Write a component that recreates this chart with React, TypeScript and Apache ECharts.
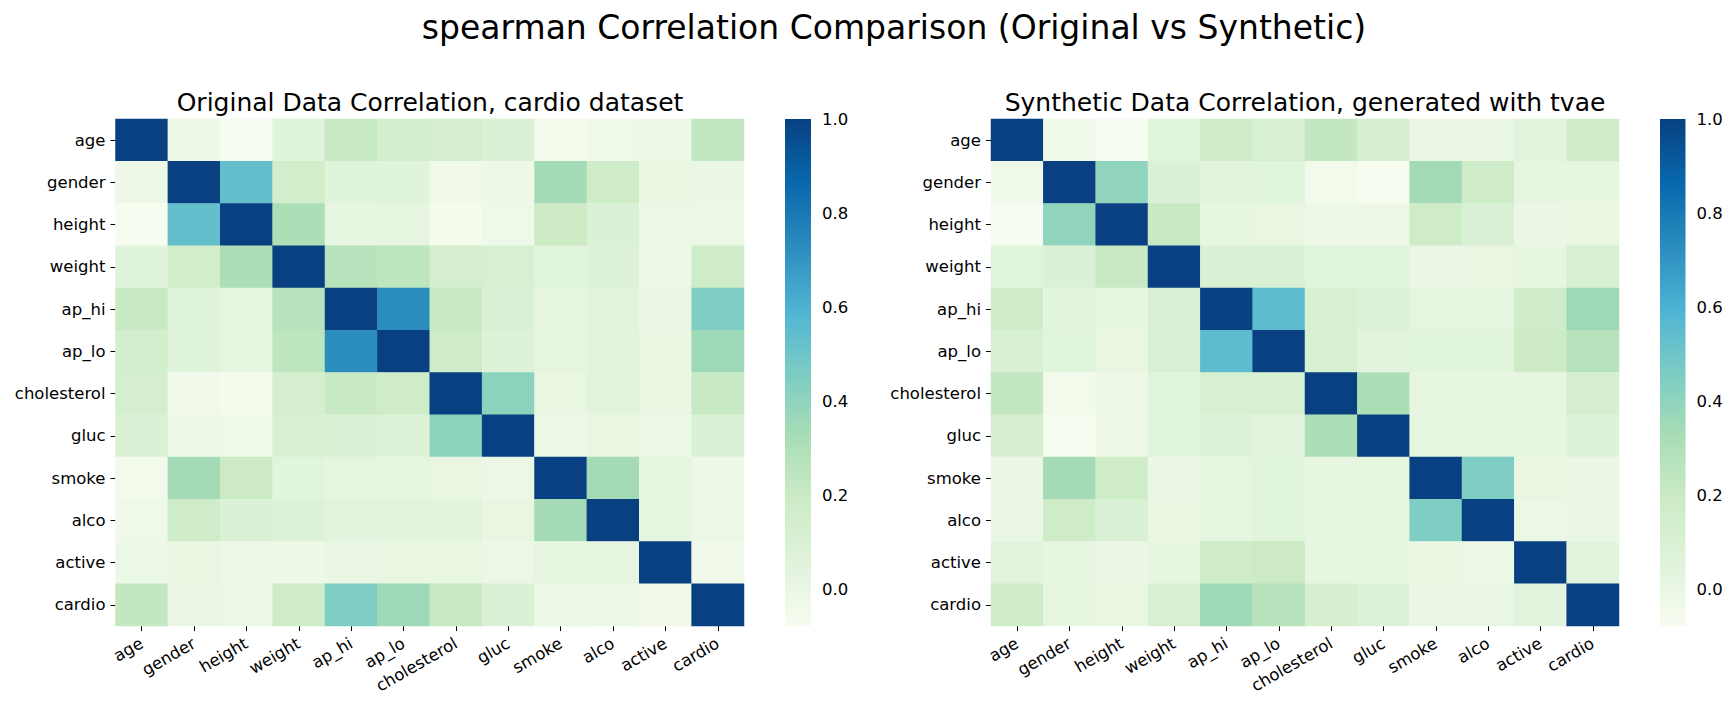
import React, { useEffect, useRef } from "react";
import * as echarts from "echarts";

const categories = ["age", "gender", "height", "weight", "ap_hi", "ap_lo", "cholesterol", "gluc", "smoke", "alco", "active", "cardio"];

const originalCorr = [
  [1, -0.02, -0.077, 0.06, 0.21, 0.15, 0.14, 0.09, -0.05, -0.03, -0.01, 0.23],
  [-0.02, 1, 0.53, 0.16, 0.06, 0.06, -0.04, -0.02, 0.34, 0.17, 0.01, 0.0],
  [-0.077, 0.53, 1, 0.31, 0.02, 0.03, -0.06, -0.03, 0.19, 0.09, -0.01, -0.01],
  [0.06, 0.16, 0.31, 1, 0.27, 0.25, 0.14, 0.11, 0.05, 0.07, -0.02, 0.18],
  [0.21, 0.06, 0.02, 0.27, 1, 0.73, 0.21, 0.1, 0.03, 0.04, 0.0, 0.45],
  [0.15, 0.06, 0.03, 0.25, 0.73, 1, 0.17, 0.08, 0.03, 0.04, 0.01, 0.36],
  [0.14, -0.04, -0.06, 0.14, 0.21, 0.17, 1, 0.41, 0.01, 0.04, 0.01, 0.21],
  [0.09, -0.02, -0.03, 0.11, 0.1, 0.08, 0.41, 1, -0.01, 0.01, -0.01, 0.09],
  [-0.05, 0.34, 0.19, 0.05, 0.03, 0.03, 0.01, -0.01, 1, 0.34, 0.03, -0.02],
  [-0.03, 0.17, 0.09, 0.07, 0.04, 0.04, 0.04, 0.01, 0.34, 1, 0.03, -0.01],
  [-0.01, 0.01, -0.01, -0.02, 0.0, 0.01, 0.01, -0.01, 0.03, 0.03, 1, -0.04],
  [0.23, 0.0, -0.01, 0.18, 0.45, 0.36, 0.21, 0.09, -0.02, -0.01, -0.04, 1],
];

const syntheticCorr = [
  [1, -0.03, -0.077, 0.05, 0.17, 0.11, 0.23, 0.12, 0.0, 0.0, 0.04, 0.17],
  [-0.03, 1, 0.4, 0.09, 0.04, 0.05, -0.05, -0.07, 0.34, 0.17, 0.02, 0.02],
  [-0.077, 0.4, 1, 0.21, 0.02, 0.01, -0.02, -0.02, 0.17, 0.1, 0.0, 0.01],
  [0.05, 0.09, 0.21, 1, 0.1, 0.1, 0.05, 0.05, 0.0, 0.01, 0.02, 0.11],
  [0.17, 0.04, 0.02, 0.1, 1, 0.55, 0.11, 0.07, 0.03, 0.03, 0.17, 0.36],
  [0.11, 0.05, 0.01, 0.1, 0.55, 1, 0.11, 0.04, 0.05, 0.05, 0.19, 0.27],
  [0.23, -0.05, -0.02, 0.05, 0.11, 0.11, 1, 0.31, 0.02, 0.02, 0.02, 0.13],
  [0.12, -0.07, -0.02, 0.05, 0.07, 0.04, 0.31, 1, 0.03, 0.03, 0.02, 0.07],
  [0.0, 0.34, 0.17, 0.0, 0.03, 0.05, 0.02, 0.03, 1, 0.45, 0.01, 0.0],
  [0.0, 0.17, 0.1, 0.01, 0.03, 0.05, 0.02, 0.03, 0.45, 1, -0.01, 0.0],
  [0.04, 0.02, 0.0, 0.02, 0.17, 0.19, 0.02, 0.02, 0.01, -0.01, 1, 0.04],
  [0.17, 0.02, 0.01, 0.11, 0.36, 0.27, 0.13, 0.07, 0.0, 0.0, 0.04, 1],
];

const colorbarTicks = [0.0, 0.2, 0.4, 0.6, 0.8, 1.0];
const gnBu = ["#f7fcf0", "#e0f3db", "#ccebc5", "#a8ddb5", "#7bccc4", "#4eb3d3", "#2b8cbe", "#0868ac", "#084081"];

const suptitleText = "spearman Correlation Comparison (Original vs Synthetic)";
const leftTitleText = "Original Data Correlation, cardio dataset";
const rightTitleText = "Synthetic Data Correlation, generated with tvae";

const FONT = "'DejaVu Sans', 'Liberation Sans', sans-serif";
const TICK_FS = 16.5;

function toCells(m: number[][]) {
  const out: number[][] = [];
  for (let y = 0; y < m.length; y++) {
    for (let x = 0; x < m[y].length; x++) {
      out.push([x, y, m[y][x]]);
    }
  }
  return out;
}

function matMin(m: number[][]) {
  let mn = Infinity;
  m.forEach((r) => r.forEach((v) => { if (v < mn) mn = v; }));
  return mn;
}

export default function App() {
  const ref = useRef<HTMLDivElement>(null);

  useEffect(() => {
    if (!ref.current) return;
    const chart = echarts.init(ref.current, null, { renderer: "svg" });

    const vminO = matMin(originalCorr);
    const vminS = matMin(syntheticCorr);
    const vmax = 1.0;

    const heatGrids = [
      { left: 115.5, top: 119, width: 628.5, height: 507 },
      { left: 991, top: 119, width: 628, height: 507 },
    ];
    const cbGrids = [
      { left: 785, top: 119, width: 26, height: 507 },
      { left: 1660, top: 119, width: 25.5, height: 507 },
    ];

    const catX = (gi: number) => ({
      type: "category",
      gridIndex: gi,
      data: categories,
      axisLine: { show: false },
      axisTick: { show: true, alignWithLabel: true, length: 5, lineStyle: { color: "#000", width: 1 } },
      axisLabel: { interval: 0, rotate: 30, margin: 16, fontSize: TICK_FS, fontFamily: FONT, color: "#000" },
      splitLine: { show: false },
    });
    const catY = (gi: number) => ({
      type: "category",
      gridIndex: gi,
      data: categories,
      inverse: true,
      axisLine: { show: false },
      axisTick: { show: true, alignWithLabel: true, length: 5, lineStyle: { color: "#000", width: 1 } },
      axisLabel: { interval: 0, margin: 10, fontSize: TICK_FS, fontFamily: FONT, color: "#000" },
      splitLine: { show: false },
    });
    const cbX = (gi: number) => ({ type: "value", gridIndex: gi, min: 0, max: 1, show: false });
    const cbY = (gi: number, vmin: number) => ({
      type: "value",
      gridIndex: gi,
      min: vmin,
      max: vmax,
      position: "right",
      axisLine: { show: false },
      splitLine: { show: false },
      axisTick: { show: true, length: 5, customValues: colorbarTicks, lineStyle: { color: "#000", width: 1 } },
      axisLabel: {
        customValues: colorbarTicks,
        margin: 11,
        fontSize: TICK_FS,
        fontFamily: FONT,
        color: "#000",
        formatter: (v: number) => v.toFixed(1),
      },
    });

    const stops = gnBu.map((c, i) => ({ offset: i / (gnBu.length - 1), color: gnBu[gnBu.length - 1 - i] }));

    const colorbarSeries = (gi: number, vmin: number) => ({
      type: "custom",
      xAxisIndex: gi,
      yAxisIndex: gi,
      silent: true,
      data: [[0, vmin, 1, vmax]],
      renderItem: (params: any, api: any) => {
        const p0 = api.coord([0, vmax]);
        const p1 = api.coord([1, vmin]);
        return {
          type: "rect",
          shape: { x: p0[0], y: p0[1], width: p1[0] - p0[0], height: p1[1] - p0[1] },
          style: { fill: new echarts.graphic.LinearGradient(0, 0, 0, 1, stops) },
        };
      },
    });

    const option: any = {
      animation: false,
      backgroundColor: "#ffffff",
      textStyle: { fontFamily: FONT },
      grid: [...heatGrids, ...cbGrids].map((g) => ({ ...g, containLabel: false })),
      xAxis: [catX(0), catX(1), cbX(2), cbX(3)],
      yAxis: [catY(0), catY(1), cbY(2, vminO), cbY(3, vminS)],
      visualMap: [
        { type: "continuous", show: false, seriesIndex: 0, min: vminO, max: vmax, inRange: { color: gnBu } },
        { type: "continuous", show: false, seriesIndex: 1, min: vminS, max: vmax, inRange: { color: gnBu } },
      ],
      series: [
        { type: "heatmap", xAxisIndex: 0, yAxisIndex: 0, data: toCells(originalCorr), itemStyle: { borderWidth: 0 } },
        { type: "heatmap", xAxisIndex: 1, yAxisIndex: 1, data: toCells(syntheticCorr), itemStyle: { borderWidth: 0 } },
        colorbarSeries(2, vminO),
        colorbarSeries(3, vminS),
      ],
      graphic: [
        {
          type: "text",
          x: 894,
          y: 27,
          style: { text: suptitleText, fontSize: 33, fontFamily: FONT, fill: "#000", align: "center", verticalAlign: "middle" },
        },
        {
          type: "text",
          x: 430,
          y: 102,
          style: { text: leftTitleText, fontSize: 25, fontFamily: FONT, fill: "#000", align: "center", verticalAlign: "middle" },
        },
        {
          type: "text",
          x: 1305,
          y: 102,
          style: { text: rightTitleText, fontSize: 25, fontFamily: FONT, fill: "#000", align: "center", verticalAlign: "middle" },
        },
      ],
    };

    chart.setOption(option);
    return () => chart.dispose();
  }, []);

  return (
    <div
      ref={ref}
      style={{ position: "fixed", left: 0, top: 0, width: 1733, height: 711, background: "#fff" }}
    />
  );
}
